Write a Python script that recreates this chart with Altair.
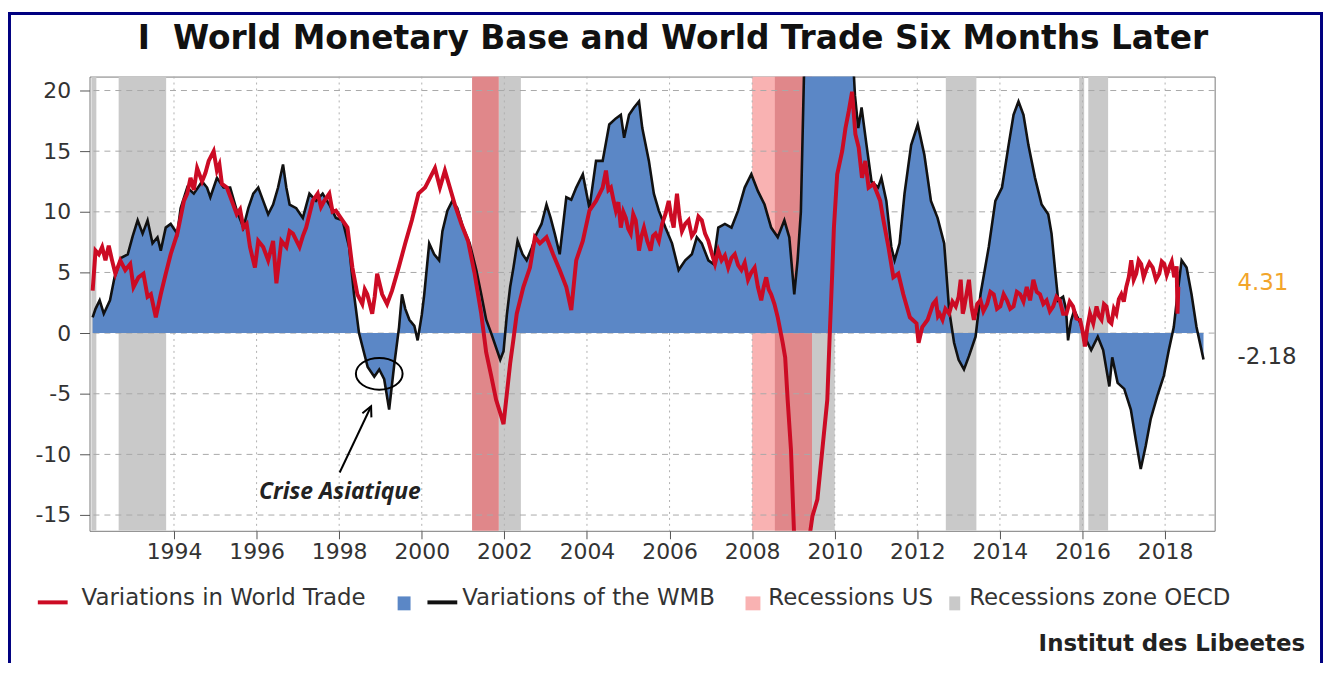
import altair as alt
import pandas as pd

# ---------------- data ----------------
TITLE = "I\u00a0\u00a0World Monetary Base and World Trade Six Months Later"
SOURCE = "Institut des Libeetes"
LEGEND_LABELS = ["Variations in World Trade", "Variations of the WMB",
                 "Recessions US", "Recessions zone OECD"]
ANNOTATION = "Crise Asiatique"
LAST_TRADE = "4.31"
LAST_WMB = "-2.18"
X_TICKS = list(range(1994, 2019, 2))
Y_TICKS = [-15, -10, -5, 0, 5, 10, 15, 20]

US_START = [2001.22, 2008.0]
US_END = [2001.86, 2009.45]
OECD_START = [1992.0, 1992.66, 2001.22, 2008.55, 2012.69, 2015.92, 2016.14]
OECD_END = [1992.12, 1993.81, 2002.4, 2010.0, 2013.43, 2016.04, 2016.62]

wmb_year = [1992.03, 1992.1, 1992.2, 1992.3, 1992.45, 1992.56, 1992.72, 1992.88, 1993.0, 1993.12,
            1993.24, 1993.36, 1993.48, 1993.6, 1993.68, 1993.8, 1993.92, 1994.08, 1994.16, 1994.32,
            1994.48, 1994.68, 1994.8, 1994.88, 1995.04, 1995.2, 1995.36, 1995.52, 1995.68, 1995.8,
            1995.92, 1996.04, 1996.16, 1996.28, 1996.4, 1996.52, 1996.64, 1996.72, 1996.8, 1996.96,
            1997.12, 1997.28, 1997.44, 1997.6, 1997.76, 1997.92, 1998.08, 1998.24, 1998.36, 1998.48,
            1998.6, 1998.69, 1998.85, 1998.97, 1999.09, 1999.21, 1999.33, 1999.45, 1999.52, 1999.6,
            1999.7, 1999.82, 1999.9, 2000.0, 2000.06, 2000.18, 2000.3, 2000.42, 2000.5, 2000.62,
            2000.74, 2000.86, 2001.0, 2001.16, 2001.32, 2001.44, 2001.56, 2001.68, 2001.8, 2001.9,
            2001.98, 2002.06, 2002.14, 2002.22, 2002.32, 2002.44, 2002.54, 2002.66, 2002.78, 2002.9,
            2003.02, 2003.12, 2003.22, 2003.34, 2003.5, 2003.62, 2003.74, 2003.9, 2004.06, 2004.22,
            2004.38, 2004.54, 2004.7, 2004.82, 2004.9, 2005.02, 2005.14, 2005.26, 2005.34, 2005.5,
            2005.62, 2005.74, 2005.9, 2006.06, 2006.22, 2006.38, 2006.54, 2006.66, 2006.78, 2006.94,
            2007.06, 2007.18, 2007.34, 2007.5, 2007.66, 2007.82, 2007.98, 2008.14, 2008.3, 2008.46,
            2008.62, 2008.78, 2008.9, 2009.02, 2009.1, 2009.18, 2009.26, 2009.35, 2009.8, 2010.4,
            2010.46, 2010.49, 2010.57, 2010.65, 2010.77, 2010.89, 2011.05, 2011.13, 2011.25, 2011.37,
            2011.45, 2011.57, 2011.69, 2011.85, 2012.01, 2012.17, 2012.33, 2012.49, 2012.65, 2012.77,
            2012.89, 2013.0, 2013.13, 2013.25, 2013.41, 2013.53, 2013.73, 2013.89, 2014.05, 2014.21,
            2014.33, 2014.45, 2014.57, 2014.69, 2014.85, 2015.01, 2015.17, 2015.25, 2015.33, 2015.41,
            2015.53, 2015.6, 2015.65, 2015.72, 2015.8, 2015.95, 2016.05, 2016.21, 2016.37, 2016.5,
            2016.65, 2016.72, 2016.85, 2017.01, 2017.17, 2017.29, 2017.41, 2017.53, 2017.65, 2017.81,
            2017.97, 2018.09, 2018.21, 2018.3, 2018.4, 2018.52, 2018.64, 2018.76, 2018.88, 2018.93]
wmb_value = [1.3, 2.0, 2.7, 1.6, 2.7, 4.6, 6.2, 6.5, 8.0, 9.3,
             8.2, 9.3, 7.4, 7.9, 6.8, 8.7, 9.0, 8.2, 10.3, 12.0,
             11.5, 12.5, 12.0, 11.2, 12.8, 12.0, 12.0, 10.1, 8.7, 10.3,
             11.5, 12.0, 10.9, 9.8, 10.6, 12.0, 13.9, 12.0, 10.6, 10.3,
             9.5, 11.5, 10.9, 11.5, 10.6, 9.5, 9.3, 7.1, 3.2, 0.0,
             -1.6, -2.8, -3.6, -3.0, -3.8, -6.3, -2.7, 0.5, 3.2, 2.0,
             1.1, 0.6, -0.6, 1.5, 3.2, 7.4, 6.5, 6.0, 8.4, 10.1,
             10.9, 10.3, 8.7, 7.4, 5.2, 3.2, 1.1, 0.0, -1.2, -2.2,
             -1.5, 1.5, 3.8, 5.4, 7.6, 6.5, 6.0, 7.0, 8.2, 9.0,
             10.6, 9.5, 8.2, 6.5, 11.2, 11.0, 12.0, 13.1, 10.3, 14.2,
             14.2, 17.2, 17.7, 18.0, 16.1, 18.0, 18.6, 19.1, 16.9, 14.2,
             11.5, 10.1, 8.7, 7.4, 5.2, 6.0, 6.5, 7.9, 7.4, 6.0,
             5.7, 8.7, 9.0, 8.7, 10.1, 12.0, 13.1, 11.7, 10.6, 8.7,
             7.9, 9.3, 7.9, 3.2, 6.0, 10.0, 22.0, 30.0, 35.0, 30.0,
             21.5, 19.6, 16.9, 18.6, 15.5, 12.5, 12.0, 12.8, 10.9, 7.1,
             6.0, 7.4, 11.5, 15.5, 17.2, 14.7, 10.9, 9.5, 7.4, 1.9,
             -0.8, -2.2, -3.0, -1.9, -0.3, 3.2, 7.1, 10.9, 12.0, 15.5,
             18.0, 19.1, 18.0, 15.5, 12.8, 10.6, 9.8, 8.2, 5.4, 2.7,
             3.0, 2.0, -0.6, 1.0, 1.9, 0.8, -0.3, -1.4, -0.3, -1.4,
             -4.4, -2.0, -4.1, -4.6, -6.3, -8.8, -11.2, -9.3, -7.1, -5.2,
             -3.5, -1.4, 0.5, 3.2, 6.0, 5.4, 3.2, 0.5, -1.4, -2.18]

trade_year = [1992.03, 1992.1, 1992.18, 1992.26, 1992.34, 1992.42, 1992.5, 1992.58, 1992.7, 1992.82,
              1992.94, 1993.02, 1993.14, 1993.26, 1993.36, 1993.44, 1993.56, 1993.68, 1993.8, 1993.92,
              1994.08, 1994.24, 1994.32, 1994.4, 1994.48, 1994.56, 1994.68, 1994.76, 1994.84, 1994.96,
              1995.04, 1995.1, 1995.16, 1995.28, 1995.4, 1995.52, 1995.6, 1995.68, 1995.76, 1995.84,
              1995.96, 1996.04, 1996.16, 1996.28, 1996.4, 1996.48, 1996.6, 1996.72, 1996.8, 1996.88,
              1997.04, 1997.12, 1997.2, 1997.28, 1997.36, 1997.48, 1997.56, 1997.64, 1997.76, 1997.84,
              1997.92, 1998.08, 1998.2, 1998.32, 1998.44, 1998.56, 1998.62, 1998.68, 1998.8, 1998.86,
              1998.92, 1999.04, 1999.16, 1999.28, 1999.44, 1999.6, 1999.76, 1999.92, 2000.08, 2000.2,
              2000.32, 2000.44, 2000.56, 2000.68, 2000.8, 2000.96, 2001.12, 2001.28, 2001.44, 2001.56,
              2001.68, 2001.8, 2001.92, 2001.98, 2002.06, 2002.14, 2002.22, 2002.3, 2002.46, 2002.62,
              2002.74, 2002.86, 2003.02, 2003.18, 2003.34, 2003.5, 2003.62, 2003.74, 2003.9, 2004.06,
              2004.22, 2004.38, 2004.46, 2004.52, 2004.58, 2004.64, 2004.7, 2004.76, 2004.82, 2004.88,
              2004.94, 2005.0, 2005.06, 2005.12, 2005.18, 2005.22, 2005.26, 2005.32, 2005.38, 2005.46,
              2005.54, 2005.6, 2005.66, 2005.74, 2005.82, 2005.9, 2005.98, 2006.04, 2006.1, 2006.14,
              2006.18, 2006.24, 2006.3, 2006.38, 2006.46, 2006.54, 2006.62, 2006.7, 2006.78, 2006.86,
              2006.94, 2007.02, 2007.1, 2007.18, 2007.26, 2007.34, 2007.42, 2007.5, 2007.58, 2007.66,
              2007.74, 2007.82, 2007.9, 2007.98, 2008.06, 2008.14, 2008.22, 2008.28, 2008.34, 2008.4,
              2008.46, 2008.54, 2008.62, 2008.74, 2008.8, 2008.86, 2008.94, 2009.02, 2009.38, 2009.46,
              2009.58, 2009.7, 2009.82, 2009.88, 2009.94, 2009.98, 2010.06, 2010.18, 2010.26, 2010.34,
              2010.42, 2010.5, 2010.58, 2010.66, 2010.74, 2010.82, 2010.94, 2011.1, 2011.18, 2011.3,
              2011.42, 2011.54, 2011.66, 2011.82, 2011.98, 2012.03, 2012.12, 2012.25, 2012.38, 2012.45,
              2012.5, 2012.54, 2012.61, 2012.68, 2012.77, 2012.85, 2012.93, 2013.0, 2013.05, 2013.1,
              2013.13, 2013.19, 2013.25, 2013.31, 2013.37, 2013.45, 2013.53, 2013.6, 2013.69, 2013.77,
              2013.85, 2013.93, 2014.01, 2014.09, 2014.17, 2014.25, 2014.33, 2014.41, 2014.49, 2014.57,
              2014.65, 2014.73, 2014.81, 2014.89, 2014.97, 2015.05, 2015.13, 2015.21, 2015.29, 2015.37,
              2015.45, 2015.53, 2015.61, 2015.69, 2015.77, 2015.85, 2015.94, 2016.0, 2016.06, 2016.12,
              2016.18, 2016.26, 2016.34, 2016.4, 2016.46, 2016.52, 2016.58, 2016.64, 2016.7, 2016.76,
              2016.82, 2016.88, 2016.94, 2017.0, 2017.06, 2017.12, 2017.18, 2017.24, 2017.3, 2017.36,
              2017.42, 2017.48, 2017.54, 2017.62, 2017.7, 2017.78, 2017.86, 2017.92, 2017.98, 2018.04,
              2018.1, 2018.16, 2018.22, 2018.28, 2018.3, 2018.32]
trade_value = [3.5, 6.8, 6.5, 7.1, 6.0, 7.2, 6.0, 4.9, 6.0, 5.2,
               5.7, 3.8, 4.6, 4.9, 3.0, 3.2, 1.3, 3.2, 4.9, 6.5,
               8.2, 10.9, 11.5, 12.8, 11.8, 13.6, 12.5, 13.2, 14.2, 15.0,
               13.4, 13.9, 12.3, 12.0, 10.9, 9.8, 10.2, 8.7, 9.0, 7.1,
               5.4, 7.6, 7.1, 6.0, 7.6, 4.1, 7.6, 7.1, 8.4, 8.2,
               7.1, 8.0, 8.7, 9.8, 10.9, 11.5, 10.4, 10.9, 11.5, 10.0,
               10.1, 9.3, 8.7, 5.4, 3.2, 2.4, 3.6, 3.2, 1.6, 3.0,
               4.9, 3.2, 2.4, 3.5, 5.4, 7.4, 9.3, 11.5, 12.0, 12.8,
               13.6, 12.0, 13.4, 12.0, 10.6, 9.0, 7.6, 4.9, 1.6, -1.6,
               -3.5, -5.5, -6.8, -7.5, -5.0, -2.5, -0.5, 1.6, 3.8, 5.4,
               7.9, 7.4, 7.9, 6.5, 5.2, 3.8, 1.9, 6.0, 7.6, 10.1,
               10.9, 12.0, 13.4, 11.8, 12.0, 11.0, 10.1, 10.8, 8.7, 10.0,
               9.5, 8.6, 8.2, 9.8, 9.3, 8.2, 6.8, 8.0, 8.7, 7.6,
               6.8, 8.0, 8.2, 7.6, 9.0, 9.8, 10.9, 9.6, 8.7, 10.2,
               11.5, 9.6, 8.4, 9.0, 9.3, 8.0, 8.4, 9.6, 9.3, 8.2,
               7.6, 6.6, 5.7, 6.8, 6.0, 6.4, 5.4, 6.2, 6.5, 5.6,
               5.2, 5.8, 4.4, 5.0, 5.4, 3.8, 2.7, 3.8, 4.6, 3.6,
               3.2, 2.4, 1.3, -0.8, -2.0, -5.5, -9.6, -17.0, -17.0, -15.1,
               -13.7, -9.6, -5.5, 0.0, 5.0, 8.7, 13.1, 15.0, 16.9, 18.3,
               19.9, 16.4, 15.3, 12.8, 14.2, 12.0, 12.3, 10.9, 9.3, 7.1,
               4.6, 4.9, 3.2, 1.3, 0.8, -0.8, 0.5, 1.1, 2.4, 2.7,
               1.4, 1.6, 1.1, 2.0, 1.6, 2.6, 2.2, 3.0, 4.4, 1.6,
               2.0, 3.2, 4.4, 2.2, 1.1, 2.4, 2.7, 1.8, 2.4, 3.4,
               3.2, 2.0, 2.2, 3.2, 2.7, 2.0, 2.2, 3.4, 3.2, 2.6,
               3.8, 2.7, 4.4, 3.4, 3.2, 2.4, 2.7, 1.8, 2.2, 3.0,
               2.7, 1.6, 1.6, 2.6, 2.2, 1.2, 1.1, 0.2, -1.1, 0.5,
               1.6, 0.8, 2.2, 1.4, 1.1, 2.4, 2.2, 1.0, 0.8, 2.0,
               1.6, 2.8, 3.2, 2.6, 3.8, 4.6, 6.0, 4.4, 4.9, 6.0,
               5.7, 4.6, 5.2, 5.8, 5.4, 4.4, 4.9, 5.9, 5.7, 4.8,
               5.4, 5.9, 4.6, 5.5, 1.6, 3.8]

# ---------------- styling ----------------
RED = "#CC0B24"
BLUE = "#5B87C6"
GRAY = "#C9C9C9"
PINK = "#F9B2B2"
OVERLAP = "#E0878A"
ORANGE = "#F2A52B"
NAVY = "#000080"
FONT = "DejaVu Sans"

W, H = 1132, 457
X_DOMAIN = [1991.954, 2019.2]
Y_DOMAIN = [-16.3, 21.15]

xs = alt.Scale(domain=X_DOMAIN, nice=False, zero=False)
ys = alt.Scale(domain=Y_DOMAIN, nice=False, zero=False)
X_AX = alt.Axis(values=X_TICKS, format="d", title=None, grid=False, domain=False,
                tickSize=8, labelPadding=3, labelFontSize=22, labelFont=FONT,
                labelColor="#333333", tickColor="#555555", labelFlush=False)
Y_AX = alt.Axis(values=Y_TICKS, title=None, grid=False, domain=False, tickSize=10,
                labelPadding=9, labelFontSize=22, labelFont=FONT, labelColor="#333333",
                tickColor="#555555",
                labelExpr="datum.value < 0 ? '-' + abs(datum.value) : '' + datum.value")

wmb = pd.DataFrame({"year": wmb_year, "value": wmb_value})
trade = pd.DataFrame({"year": trade_year, "value": trade_value})
us = pd.DataFrame({"start": US_START, "end": US_END})
oecd = pd.DataFrame({"start": OECD_START, "end": OECD_END})
ov_s, ov_e = [], []
for a, b in zip(US_START, US_END):
    for c, d in zip(OECD_START, OECD_END):
        s, e = max(a, c), min(b, d)
        if e > s:
            ov_s.append(s)
            ov_e.append(e)
overlap = pd.DataFrame({"start": ov_s, "end": ov_e})
one = pd.DataFrame({"k": [0]})


def X(field):
    return alt.X(field, scale=xs, axis=X_AX)


def Y(field):
    return alt.Y(field, scale=ys, axis=Y_AX)


def bands(df, color):
    return alt.Chart(df).mark_rect(color=color, clip=True).encode(
        x=X("start:Q"), x2="end:Q", y=alt.value(0), y2=alt.value(H))


hgrid = alt.Chart(pd.DataFrame({"v": Y_TICKS})).mark_rule(
    color="#A8A8A8", strokeDash=[6, 5], strokeWidth=1).encode(y=Y("v:Q"))
vgrid = alt.Chart(pd.DataFrame({"v": X_TICKS})).mark_rule(
    color="#B0B0B0", strokeDash=[2, 4], strokeWidth=1).encode(x=X("v:Q"))

area = alt.Chart(wmb).mark_area(color=BLUE, clip=True, opacity=1).encode(
    x=X("year:Q"), y=Y("value:Q"), y2=alt.datum(0))
black = alt.Chart(wmb).mark_line(color="#111111", strokeWidth=2.6, clip=True).encode(
    x=X("year:Q"), y=Y("value:Q"))
red = alt.Chart(trade).mark_line(color=RED, strokeWidth=4, clip=True).encode(
    x=X("year:Q"), y=Y("value:Q"))


def txt(text, x, y, size=22, color="#333333", align="left", weight="normal",
        baseline="alphabetic", font=FONT, style="normal"):
    return alt.Chart(one).mark_text(
        text=text, fontSize=size, color=color, align=align, fontWeight=weight,
        baseline=baseline, font=font, fontStyle=style).encode(
        x=alt.value(x), y=alt.value(y))


def hline(x1, x2, y, color, width):
    return alt.Chart(one).mark_rule(color=color, strokeWidth=width).encode(
        x=alt.value(x1), x2=alt.value(x2), y=alt.value(y))


def box(x1, x2, y1, y2, color):
    return alt.Chart(one).mark_rect(color=color).encode(
        x=alt.value(x1), x2=alt.value(x2), y=alt.value(y1), y2=alt.value(y2))


ellipse = alt.Chart(one).mark_point(
    shape="M -1 0 A 1 0.68 0 1 1 1 0 A 1 0.68 0 1 1 -1 0 Z",
    size=2209, filled=False, color="black", strokeWidth=2, opacity=1).encode(
    x=alt.value(291.5), y=alt.value(299))
arrow = alt.Chart(one).mark_rule(color="black", strokeWidth=2).encode(
    x=alt.value(251.7), y=alt.value(398.3), x2=alt.value(283.3), y2=alt.value(331.7))
arrow_head = alt.Chart(one).mark_point(
    shape="M -0.5 1 L 0 0 L 0.5 1", size=400, angle=25, filled=False,
    color="black", strokeWidth=2, opacity=1).encode(
    x=alt.value(283.3), y=alt.value(331.7))

frame = alt.Chart(one).mark_rect(fill=None, stroke=NAVY, strokeWidth=3).encode(
    x=alt.value(-80.5), x2=alt.value(1239.5), y=alt.value(-63.5), y2=alt.value(700))

LEG = 23
layers = [
    bands(oecd, GRAY), bands(us, PINK), bands(overlap, OVERLAP),
    hgrid, vgrid, area, black, red,
    ellipse, arrow, arrow_head,
    txt(ANNOTATION, 252, 425, size=23, color="#222222", align="center",
        weight="bold", font="Open Sans", style="italic"),
    txt(LAST_TRADE, 1155, 208, size=23, color=ORANGE, baseline="middle"),
    txt(LAST_WMB, 1155, 282, size=23, color="#333333", baseline="middle"),
    txt(TITLE, 587, -28, size=33, color="#111111", align="center", weight="bold"),
    hline(-52, -22, 529, RED, 4),
    txt(LEGEND_LABELS[0], -8, 532, size=LEG),
    box(310, 323, 523, 537, BLUE),
    hline(340, 370, 529, "#111111", 4),
    txt(LEGEND_LABELS[1], 375, 532, size=LEG),
    box(660, 675, 523, 537, PINK),
    txt(LEGEND_LABELS[2], 683, 532, size=LEG),
    box(865, 876, 523, 537, GRAY),
    txt(LEGEND_LABELS[3], 885, 532, size=LEG),
    txt(SOURCE, 1223, 578, size=23, color="#222222", align="right", weight="bold"),
    frame,
]

chart = alt.layer(*layers).properties(
    width=W, height=H,
    padding={"left": 82, "top": 67, "right": 109, "bottom": 131},
    autosize=alt.AutoSizeParams(type="none"),
    background="white",
).configure_view(stroke="#7A7A7A", strokeWidth=1)

chart.save("out.html", embed_options={"renderer": "svg", "actions": False})
